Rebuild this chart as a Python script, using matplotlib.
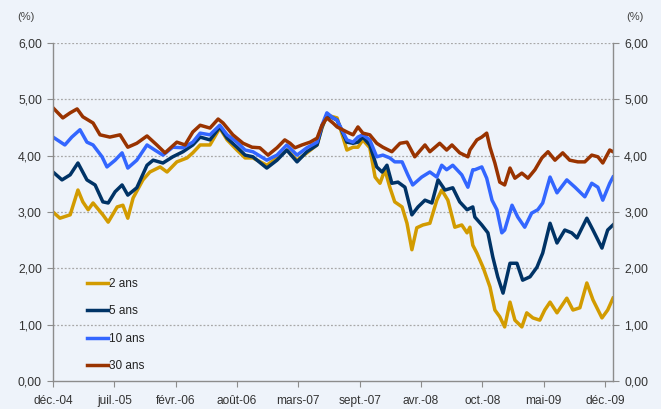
import matplotlib
matplotlib.use("Agg")
import matplotlib.pyplot as plt

plt.rcParams['font.family'] = ['Liberation Sans', 'DejaVu Sans']

# x = trading-day index (0 = déc.-04), y = yield in %
x_2 = [0, 17, 42, 61, 73, 86, 98, 122, 135, 157, 171, 183, 196, 220, 237, 262, 279, 303, 328, 342,
       360, 384, 408, 426, 450, 470, 489, 523, 548, 572, 597, 621, 646, 658, 670, 685,
       695, 719, 734, 746, 758, 775, 788, 800, 812, 824, 836, 854, 866, 878, 890, 905, 922, 939,
       951, 966, 983, 1000, 1013, 1020, 1027, 1037, 1052, 1069, 1081, 1093, 1105, 1118, 1130,
       1147, 1159, 1174, 1191, 1203, 1216, 1233, 1257, 1272, 1289, 1306, 1321, 1343, 1357, 1370]
y_2 = [3.00, 2.89, 2.95, 3.39, 3.18, 3.04, 3.16, 2.95, 2.82, 3.09, 3.12, 2.89, 3.25, 3.57, 3.71, 3.80, 3.71, 3.89, 3.96, 4.05,
       4.19, 4.19, 4.49, 4.28, 4.10, 3.96, 3.96, 3.83, 3.96, 4.10, 3.92, 4.05, 4.19, 4.49, 4.72, 4.69,
       4.67, 4.10, 4.15, 4.15, 4.28, 4.14, 3.62, 3.51, 3.75, 3.44, 3.18, 3.09, 2.80, 2.33, 2.72, 2.77, 2.80, 3.21,
       3.39, 3.21, 2.73, 2.77, 2.63, 2.73, 2.41, 2.27, 2.02, 1.67, 1.26, 1.14, 0.96, 1.40, 1.08,
       0.96, 1.21, 1.12, 1.08, 1.26, 1.40, 1.21, 1.47, 1.26, 1.30, 1.74, 1.44, 1.12, 1.26, 1.47]

x_5 = [0, 22, 42, 61, 83, 103, 122, 135, 152, 169, 183, 205, 230, 245, 269, 293, 318, 342,
       360, 384, 408, 426, 450, 470, 489, 523, 548, 572, 597, 621, 646, 658, 670, 685,
       695, 719, 734, 746, 758, 775, 792, 805, 817, 829, 844, 861, 878, 893, 910, 927, 942,
       959, 978, 995, 1013, 1027, 1032, 1049, 1064, 1076, 1088, 1101, 1118, 1135, 1149, 1167,
       1184, 1198, 1216, 1233, 1252, 1269, 1282, 1306, 1321, 1343, 1357, 1370]
y_5 = [3.71, 3.57, 3.66, 3.87, 3.57, 3.48, 3.18, 3.16, 3.36, 3.48, 3.30, 3.43, 3.83, 3.92, 3.87, 3.98, 4.07, 4.19,
       4.33, 4.28, 4.51, 4.31, 4.15, 4.01, 3.98, 3.78, 3.92, 4.10, 3.89, 4.07, 4.19, 4.51, 4.72, 4.67,
       4.63, 4.24, 4.22, 4.24, 4.33, 4.19, 3.80, 3.71, 3.83, 3.51, 3.53, 3.44, 2.95, 3.09, 3.21, 3.16, 3.57,
       3.39, 3.43, 3.18, 3.04, 3.09, 2.91, 2.77, 2.63, 2.20, 1.85, 1.56, 2.09, 2.09, 1.79, 1.85,
       2.02, 2.27, 2.80, 2.45, 2.68, 2.63, 2.54, 2.89, 2.68, 2.36, 2.68, 2.77]

x_10 = [0, 29, 46, 66, 83, 98, 120, 132, 152, 169, 183, 205, 230, 249, 269, 293, 318, 342,
        360, 384, 408, 426, 450, 470, 489, 523, 548, 572, 597, 621, 646, 658, 670, 685,
        695, 719, 734, 746, 758, 775, 792, 807, 824, 836, 854, 868, 880, 902, 922, 939, 951,
        963, 978, 1000, 1015, 1027, 1032, 1049, 1061, 1074, 1086, 1098, 1105, 1123, 1137, 1154,
        1171, 1186, 1198, 1216, 1233, 1257, 1277, 1301, 1318, 1333, 1345, 1362, 1370]
y_10 = [4.33, 4.19, 4.33, 4.46, 4.24, 4.19, 3.98, 3.80, 3.92, 4.05, 3.78, 3.92, 4.19, 4.10, 4.01, 4.15, 4.14, 4.24,
        4.40, 4.37, 4.54, 4.37, 4.24, 4.10, 4.07, 3.92, 4.01, 4.19, 4.01, 4.14, 4.24, 4.54, 4.76, 4.67,
        4.63, 4.28, 4.24, 4.33, 4.37, 4.28, 3.98, 4.01, 3.96, 3.89, 3.89, 3.66, 3.48, 3.62, 3.71, 3.62, 3.83,
        3.75, 3.83, 3.66, 3.44, 3.75, 3.75, 3.80, 3.60, 3.21, 3.04, 2.63, 2.68, 3.12, 2.91, 2.73,
        2.98, 3.04, 3.16, 3.62, 3.34, 3.57, 3.44, 3.27, 3.51, 3.44, 3.21, 3.51, 3.62]

x_30 = [0, 24, 42, 59, 73, 98, 115, 139, 164, 183, 205, 230, 254, 274, 303, 323, 342,
        360, 384, 404, 416, 440, 465, 487, 506, 526, 548, 567, 580, 592, 609, 629, 646, 658, 670, 685,
        695, 719, 734, 746, 758, 775, 792, 807, 829, 849, 866, 885, 910, 922, 946, 963, 976, 995,
        1015, 1020, 1037, 1049, 1061, 1069, 1081, 1093, 1105, 1118, 1130, 1147, 1162, 1179, 1196,
        1211, 1228, 1247, 1264, 1284, 1301, 1318, 1333, 1345, 1362, 1370]
y_30 = [4.85, 4.67, 4.76, 4.83, 4.69, 4.58, 4.37, 4.33, 4.37, 4.15, 4.22, 4.35, 4.19, 4.05, 4.24, 4.19, 4.42,
        4.54, 4.49, 4.65, 4.58, 4.37, 4.22, 4.15, 4.14, 4.01, 4.14, 4.28, 4.22, 4.14, 4.19, 4.24, 4.31, 4.54, 4.67, 4.58,
        4.51, 4.42, 4.37, 4.51, 4.40, 4.37, 4.22, 4.15, 4.07, 4.22, 4.24, 3.98, 4.19, 4.07, 4.22, 4.10, 4.19, 4.05,
        3.98, 4.10, 4.28, 4.33, 4.40, 4.15, 3.87, 3.53, 3.48, 3.78, 3.60, 3.69, 3.60, 3.75, 3.96,
        4.07, 3.92, 4.05, 3.92, 3.89, 3.89, 4.01, 3.98, 3.87, 4.10, 4.07]

series_labels = ["2 ans", "5 ans", "10 ans", "30 ans"]
colors = ["#D29B00", "#003366", "#3366FF", "#993300"]

tick_pos = [0, 150, 300, 450, 600, 750, 900, 1050, 1200, 1350]
tick_labels = ["déc.-04", "juil.-05", "févr.-06", "août-06", "mars-07",
               "sept.-07", "avr.-08", "oct.-08", "mai-09", "déc.-09"]
y_ticks = [0, 1, 2, 3, 4, 5, 6]
y_tick_labels = ["0,00", "1,00", "2,00", "3,00", "4,00", "5,00", "6,00"]

bg = "#EEF3FA"
fig = plt.figure(figsize=(6.61, 4.09), dpi=100, facecolor=bg)
ax = fig.add_axes([53/661, 1-381/409, 560/661, 338/409])
ax.set_facecolor(bg)

for xs, ys, lab, c in zip([x_2, x_5, x_10, x_30], [y_2, y_5, y_10, y_30], series_labels, colors):
    ax.plot(xs, ys, color=c, lw=2.5, label=lab, solid_joinstyle='round')

ax.set_xlim(0, 1370)
ax.set_ylim(0, 6)
ax.set_yticks(y_ticks)
ax.set_yticklabels(y_tick_labels)
ax.set_xticks(tick_pos)
ax.set_xticklabels(tick_labels)

for yv in y_ticks[1:]:
    ax.axhline(yv, color="#A8A8A8", lw=0.9, ls=(0, (1.5, 1.5)), zorder=0)

for s in ['left', 'right', 'bottom']:
    ax.spines[s].set_color("#8C8C8C")
    ax.spines[s].set_linewidth(1.0)
ax.spines['top'].set_visible(False)

ax.tick_params(axis='y', which='both', left=True, right=True, labelleft=True, labelright=True,
               direction='out', length=4, width=0.8, color="#8C8C8C", labelsize=8.8,
               labelcolor="#333333", pad=4)
ax.tick_params(axis='x', direction='out', length=4, width=0.8, color="#8C8C8C",
               labelsize=8.6, labelcolor="#333333", pad=6)

fig.text(26/661, 1-17/409, "(%)", ha='center', va='center', fontsize=8, color="#444444")
fig.text(635/661, 1-17/409, "(%)", ha='center', va='center', fontsize=8, color="#444444")

ax.legend(loc='upper left', bbox_to_anchor=((87-53)/560, (381-278)/338), frameon=False,
          fontsize=8.5, handlelength=1.75, handletextpad=0.15, labelspacing=1.3,
          borderpad=0, borderaxespad=0, labelcolor="#222222")

fig.savefig("out.png", dpi=100, facecolor=bg)
